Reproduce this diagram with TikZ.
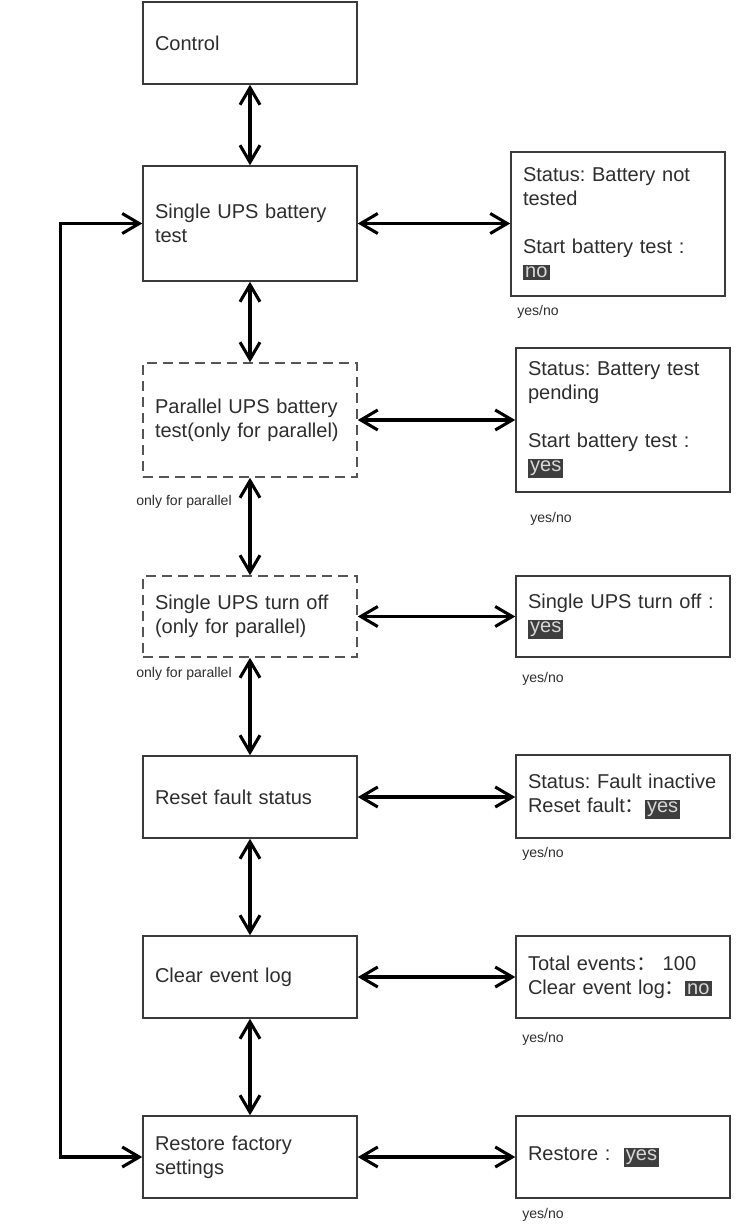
\documentclass[tikz,border=0pt]{standalone}
\usepackage{fontspec}
\setmainfont{Liberation Sans}
\newfontfamily\cjk{Noto Sans CJK SC}
\usetikzlibrary{arrows.meta}
\definecolor{boxline}{RGB}{58,58,58}
\definecolor{dashline}{RGB}{85,85,85}
\definecolor{menutext}{RGB}{45,45,45}
\definecolor{selfill}{RGB}{62,62,62}
\definecolor{seltext}{RGB}{215,215,215}
\newcommand{\sel}[1]{{\setlength{\fboxsep}{1.2pt}\colorbox{selfill}{\textcolor{seltext}{#1}}}}
\newcommand{\fcolon}{{\cjk ：}}
\frenchspacing
\hyphenpenalty=10000
\exhyphenpenalty=10000

\begin{document}
\begin{tikzpicture}[x=1cm,y=1cm,font=\fontsize{11.4}{13.6}\selectfont,
      menu/.style={draw=boxline,line width=.85pt,text=menutext,text width=3.8cm,
        align=left,inner xsep=.24cm,inner ysep=0pt,minimum height=1.64cm},
      optmenu/.style={menu,draw=dashline,dash pattern=on .2cm off .12cm},
      info/.style={menu},
      hint/.style={font=\fontsize{8}{9}\selectfont,text=menutext,inner sep=0pt,
        anchor=base west},
      link/.style={{Straight Barb[length=.34cm,width=.4cm]}-{Straight Barb[length=.34cm,width=.4cm]},
        line width=1.75pt}]
      \useasboundingbox (0,0) rectangle (14.84,-24.48);
      % menu column
      \node[menu] (control) at (5.0,-.86) {Control};
      \node[menu,minimum height=2.3cm] (single) at (5.0,-4.47) {Single UPS battery\\test};
      \node[optmenu,minimum height=2.28cm] (parallel) at (5.0,-8.4) {Parallel UPS battery\\test(only for parallel)};
      \node[optmenu,minimum height=1.62cm] (turnoff) at (5.0,-12.33) {Single UPS turn off\\(only for parallel)};
      \node[menu] (reset) at (5.0,-15.94) {Reset fault status};
      \node[menu] (clear) at (5.0,-19.54) {Clear event log};
      \node[menu] (restore) at (5.0,-23.14) {Restore factory\\settings};
      % screens
      \node[info,minimum height=2.88cm] (single-info) at (12.36,-4.48)
        {Status: Battery not\\tested\\[1.2em]Start battery test :\\\sel{no}};
      \node[info,minimum height=2.88cm] (parallel-info) at (12.46,-8.4)
        {Status: Battery test\\pending\\[1.2em]Start battery test :\\\sel{yes}};
      \node[info,minimum height=1.62cm] (turnoff-info) at (12.46,-12.33)
        {Single UPS turn off :\\\sel{yes}};
      \node[info,minimum height=1.66cm] (reset-info) at (12.46,-15.93)
        {Status: Fault inactive\\Reset fault\fcolon\sel{yes}};
      \node[info] (clear-info) at (12.46,-19.54)
        {Total events\fcolon{} 100\\Clear event log\fcolon\sel{no}};
      \node[info] (restore-info) at (12.46,-23.14) {Restore :\ \ \sel{yes}};
      % small notes
      \node[hint] (yn-single) at (10.34,-6.30) {yes/no};
      \node[hint] (yn-parallel) at (10.6,-10.44) {yes/no};
      \node[hint] (yn-turnoff) at (10.44,-13.64) {yes/no};
      \node[hint] (yn-reset) at (10.44,-17.14) {yes/no};
      \node[hint] (yn-clear) at (10.44,-20.84) {yes/no};
      \node[hint] (yn-restore) at (10.44,-24.36) {yes/no};
      \node[hint] (only-a) at (2.72,-10.1) {only for parallel};
      \node[hint] (only-b) at (2.72,-13.54) {only for parallel};
      % links
      \draw[link] (control) -- (single);
      \draw[link] (single) -- (parallel);
      \draw[link] (parallel) -- (turnoff);
      \draw[link] (turnoff) -- (reset);
      \draw[link] (reset) -- (clear);
      \draw[link] (clear) -- (restore);
      \draw[link] (single.east) -- (single.east -| single-info.west);
      \draw[link] (parallel.east) -- (parallel.east -| parallel-info.west);
      \draw[link] (turnoff.east) -- (turnoff.east -| turnoff-info.west);
      \draw[link] (reset.east) -- (reset.east -| reset-info.west);
      \draw[link] (clear.east) -- (clear.east -| clear-info.west);
      \draw[link] (restore.east) -- (restore.east -| restore-info.west);
      \draw[link] (single.west) -- ++(-1.64,0) |- (restore.west);
    \end{tikzpicture}
\end{document}
